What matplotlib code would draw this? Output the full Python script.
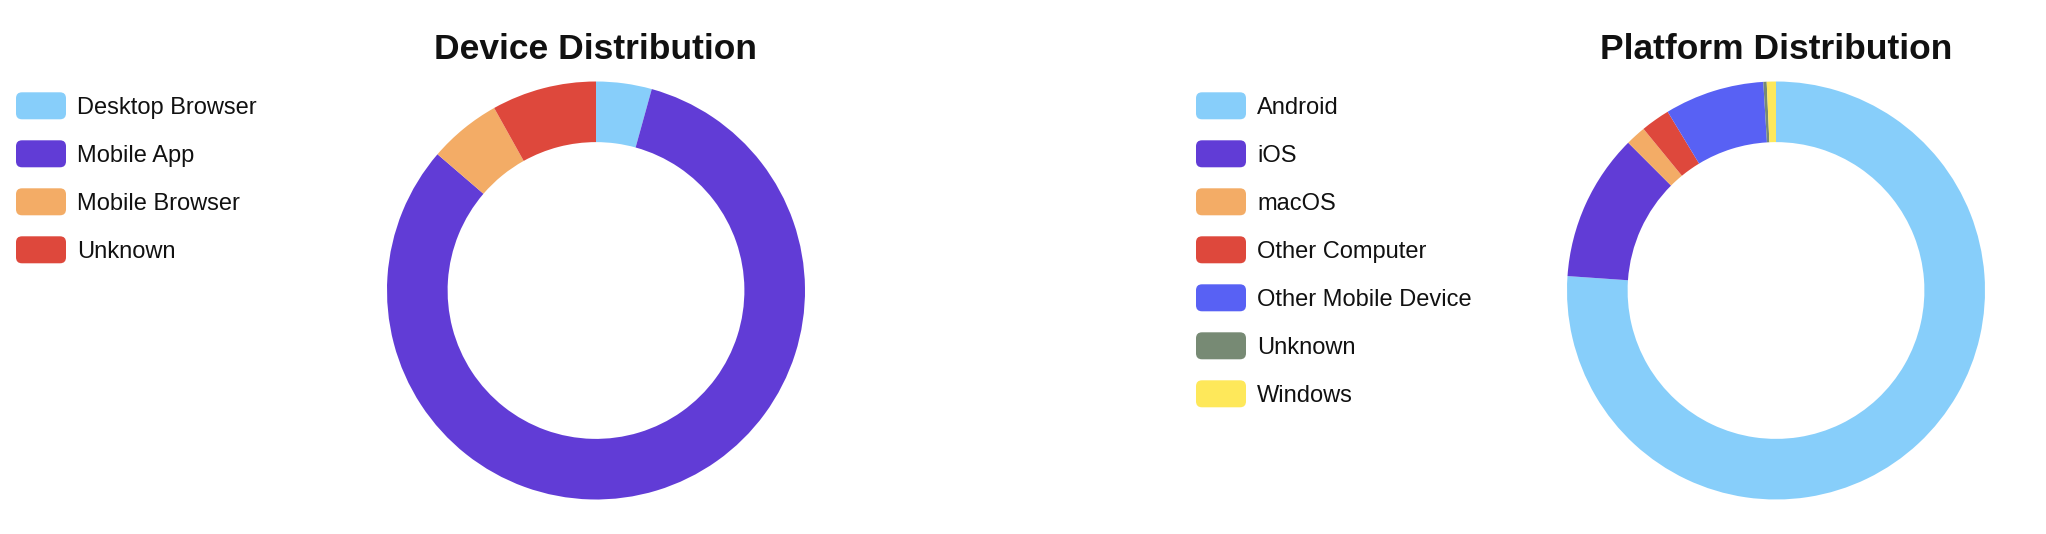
import matplotlib
matplotlib.use("Agg")
import matplotlib.pyplot as plt
from matplotlib.patches import FancyBboxPatch

plt.rcParams['font.family'] = ['Liberation Sans', 'DejaVu Sans']

device_labels = ["Desktop Browser", "Mobile App", "Mobile Browser", "Unknown"]
device_values = [4.3, 82.0, 5.6, 8.1]
device_colors = ["#87CEFA", "#613CD6", "#F3AC66", "#DE483C"]

platform_labels = ["Android", "iOS", "macOS", "Other Computer",
                   "Other Mobile Device", "Unknown", "Windows"]
platform_values = [76.1, 11.4, 1.57, 2.26, 7.7, 0.26, 0.71]
platform_colors = ["#87CEFA", "#613CD6", "#F3AC66", "#DE483C",
                   "#5861F4", "#778A74", "#FEE85A"]

W, H = 2046, 534
fig = plt.figure(figsize=(W / 100, H / 100), dpi=100)

# overlay axes in pixel coordinates for legends and titles
ov = fig.add_axes([0, 0, 1, 1])
ov.set_xlim(0, W)
ov.set_ylim(H, 0)
ov.axis('off')


def donut(cx, cy, r, values, colors):
    ax = fig.add_axes([(cx - r) / W, (H - cy - r) / H, 2 * r / W, 2 * r / H])
    ax.pie(values, colors=colors, startangle=90, counterclock=False,
           radius=1, wedgeprops=dict(width=0.29, edgecolor='none', linewidth=0))
    ax.set_xlim(-1, 1)
    ax.set_ylim(-1, 1)
    ax.axis('off')
    return ax


def legend(x0, y0, labels, colors):
    for i, (lab, col) in enumerate(zip(labels, colors)):
        yc = y0 + i * 48
        pad = 6
        box = FancyBboxPatch((x0 + pad, yc - 13.5 + pad), 50 - 2 * pad, 27 - 2 * pad,
                             boxstyle="round,pad=%d" % pad, facecolor=col,
                             edgecolor='none', zorder=3)
        ov.add_patch(box)
        ov.text(x0 + 61, yc + 8.5, lab, fontsize=17, color='#111111',
                va='baseline', ha='left', zorder=4)


donut(596, 290.5, 209, device_values, device_colors)
donut(1776, 290.5, 209, platform_values, platform_colors)

legend(16, 105.8, device_labels, device_colors)
legend(1196, 105.8, platform_labels, platform_colors)

ov.text(596, 59, "Device Distribution", fontsize=25.5, fontweight='bold',
        ha='center', va='baseline', color='#111111')
ov.text(1776, 59, "Platform Distribution", fontsize=25.5, fontweight='bold',
        ha='center', va='baseline', color='#111111')

fig.savefig("out.png", dpi=100, facecolor='white')
